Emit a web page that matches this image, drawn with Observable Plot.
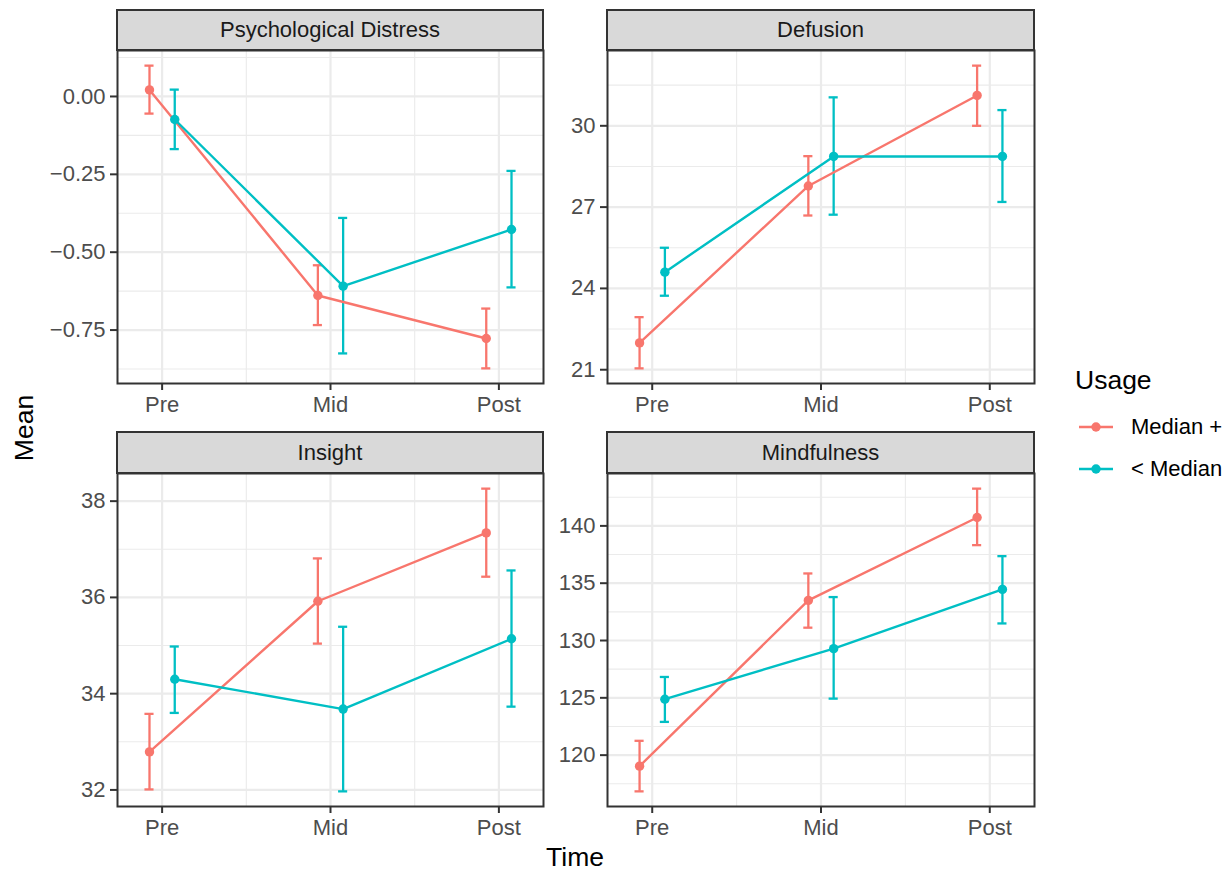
<!DOCTYPE html>
<html>
<head>
<meta charset="utf-8">
<script src="https://cdn.jsdelivr.net/npm/d3@7"></script>
<script src="https://cdn.jsdelivr.net/npm/@observablehq/plot@0.6"></script>
<style>
  html, body { margin: 0; padding: 0; background: #fff; }
  #chart { position: relative; width: 1232px; height: 873px; font-family: "Liberation Sans", Arial, Helvetica, sans-serif; }
  .strip { position: absolute; box-sizing: border-box; background: #D9D9D9; border: 2px solid #333; color: #1A1A1A; font-size: 22px; display: flex; align-items: center; justify-content: center; }
  .panel { position: absolute; }
  .title { position: absolute; color: #000; font-size: 26.5px; white-space: nowrap; }
  .legtext { position: absolute; color: #000; font-size: 22px; white-space: nowrap; }
</style>
</head>
<body>
<div id="chart"></div>
<script>
// ---- data ----
const times = ["Pre", "Mid", "Post"];
const groups = ["Median +", "< Median"];
const groupColors = ["#F8766D", "#00BFC4"];
const measures = ["Psychological Distress", "Defusion", "Insight", "Mindfulness"];

// Psychological Distress
const distressHighMean = [0.021, -0.639, -0.777];
const distressHighLo   = [-0.055, -0.734, -0.873];
const distressHighHi   = [0.099, -0.542, -0.681];
const distressLowMean  = [-0.074, -0.609, -0.427];
const distressLowLo    = [-0.169, -0.825, -0.613];
const distressLowHi    = [0.022, -0.390, -0.239];
const distressTicks = [0, -0.25, -0.5, -0.75];

// Defusion
const defusionHighMean = [21.99, 27.78, 31.12];
const defusionHighLo   = [21.05, 26.69, 30.00];
const defusionHighHi   = [22.94, 28.88, 32.22];
const defusionLowMean  = [24.60, 28.87, 28.87];
const defusionLowLo    = [23.73, 26.72, 27.19];
const defusionLowHi    = [25.50, 31.05, 30.58];
const defusionTicks = [21, 24, 27, 30];

// Insight
const insightHighMean = [32.79, 35.92, 37.34];
const insightHighLo   = [32.01, 35.04, 36.43];
const insightHighHi   = [33.58, 36.81, 38.26];
const insightLowMean  = [34.30, 33.68, 35.14];
const insightLowLo    = [33.60, 31.97, 33.73];
const insightLowHi    = [34.98, 35.39, 36.56];
const insightTicks = [32, 34, 36, 38];

// Mindfulness
const mindHighMean = [119.04, 133.50, 140.73];
const mindHighLo   = [116.84, 131.12, 138.32];
const mindHighHi   = [121.25, 135.85, 143.25];
const mindLowMean  = [124.88, 129.29, 134.46];
const mindLowLo    = [122.90, 124.93, 131.49];
const mindLowHi    = [126.82, 133.79, 137.36];
const mindTicks = [120, 125, 130, 135, 140];

// ---- layout ----
const chart = document.getElementById("chart");
const dodge = 0.075;      // position_dodge half-width (x units)
const capHalf = 0.027;    // error-bar cap half-width (x units)
const xPad = 0.265;
const ML = 80, MT = 2, MR = 2, MB = 40;

const panels = [
  {name: measures[0], px: 117, py: 50, pw: 426, ph: 333, stripTop: 9,
   high: [distressHighMean, distressHighLo, distressHighHi], low: [distressLowMean, distressLowLo, distressLowHi],
   ticks: distressTicks, fmt: d3.format(".2f")},
  {name: measures[1], px: 607, py: 50, pw: 427, ph: 333, stripTop: 9,
   high: [defusionHighMean, defusionHighLo, defusionHighHi], low: [defusionLowMean, defusionLowLo, defusionLowHi],
   ticks: defusionTicks, fmt: d3.format("d")},
  {name: measures[2], px: 117, py: 473, pw: 426, ph: 333, stripTop: 431,
   high: [insightHighMean, insightHighLo, insightHighHi], low: [insightLowMean, insightLowLo, insightLowHi],
   ticks: insightTicks, fmt: d3.format("d")},
  {name: measures[3], px: 607, py: 473, pw: 427, ph: 333, stripTop: 431,
   high: [mindHighMean, mindHighLo, mindHighHi], low: [mindLowMean, mindLowLo, mindLowHi],
   ticks: mindTicks, fmt: d3.format("d")}
];

function buildRows(p) {
  const rows = [];
  [p.high, p.low].forEach((arrs, gi) => {
    times.forEach((t, ti) => {
      rows.push({
        group: groups[gi],
        x: ti + 1 + (gi === 0 ? -dodge : dodge),
        mean: arrs[0][ti], lo: arrs[1][ti], hi: arrs[2][ti]
      });
    });
  });
  return rows;
}

for (const p of panels) {
  const rows = buildRows(p);
  const ymin = d3.min(rows, d => d.lo), ymax = d3.max(rows, d => d.hi);
  const ext = (ymax - ymin) * 0.05;
  const yDomain = [ymin - ext, ymax + ext];
  const st = Math.abs(p.ticks[1] - p.ticks[0]);
  const minorY = [];
  const t0 = d3.min(p.ticks);
  for (let v = t0 - st / 2; v <= yDomain[1]; v += st) if (v >= yDomain[0]) minorY.push(v);
  const xTicks = times.map((t, i) => i + 1);
  const minorX = [1.5, 2.5];

  const svg = Plot.plot({
    width: ML + p.pw + MR,
    height: MT + p.ph + MB,
    marginLeft: ML, marginRight: MR, marginTop: MT, marginBottom: MB,
    style: {background: "transparent", overflow: "visible", fontFamily: "'Liberation Sans', Arial, Helvetica, sans-serif"},
    x: {domain: [1 - xPad, times.length + xPad], axis: null},
    y: {domain: yDomain, axis: null},
    color: {domain: groups, range: groupColors},
    marks: [
      Plot.gridY(minorY, {stroke: "#EBEBEB", strokeOpacity: 1, strokeWidth: 1.1}),
      Plot.gridX(minorX, {stroke: "#EBEBEB", strokeOpacity: 1, strokeWidth: 1.1}),
      Plot.gridY(p.ticks, {stroke: "#EBEBEB", strokeOpacity: 1, strokeWidth: 2.2}),
      Plot.gridX(xTicks, {stroke: "#EBEBEB", strokeOpacity: 1, strokeWidth: 2.2}),
      Plot.ruleX(rows, {x: "x", y1: "lo", y2: "hi", stroke: "group", strokeWidth: 2.3}),
      Plot.ruleY(rows, {y: "lo", x1: d => d.x - capHalf, x2: d => d.x + capHalf, stroke: "group", strokeWidth: 2.3}),
      Plot.ruleY(rows, {y: "hi", x1: d => d.x - capHalf, x2: d => d.x + capHalf, stroke: "group", strokeWidth: 2.3}),
      Plot.line(rows, {x: "x", y: "mean", z: "group", stroke: "group", strokeWidth: 2.4}),
      Plot.dot(rows, {x: "x", y: "mean", fill: "group", r: 4.7}),
      Plot.frame({stroke: "#333", strokeWidth: 2}),
      Plot.axisX(xTicks, {tickFormat: d => times[d - 1], label: null, tickSize: 7, tickPadding: 6,
        fontSize: 22, fill: "#4D4D4D", stroke: "#333", strokeWidth: 2}),
      Plot.axisY(p.ticks, {tickFormat: p.fmt, label: null, tickSize: 7, tickPadding: 5,
        fontSize: 22, fill: "#4D4D4D", stroke: "#333", strokeWidth: 2})
    ]
  });
  svg.classList.add("panel");
  svg.style.left = (p.px - ML) + "px";
  svg.style.top = (p.py - MT) + "px";
  chart.appendChild(svg);

  const strip = document.createElement("div");
  strip.className = "strip";
  strip.textContent = p.name;
  strip.style.left = (p.px - 1) + "px";
  strip.style.top = p.stripTop + "px";
  strip.style.width = (p.pw + 2) + "px";
  strip.style.height = (p.py - p.stripTop + 1) + "px";
  chart.appendChild(strip);
}

// axis titles
const yTitle = document.createElement("div");
yTitle.className = "title";
yTitle.textContent = "Mean";
yTitle.style.left = "24px";
yTitle.style.top = "428px";
yTitle.style.transform = "translate(-50%, -50%) rotate(-90deg)";
chart.appendChild(yTitle);

const xTitle = document.createElement("div");
xTitle.className = "title";
xTitle.textContent = "Time";
xTitle.style.left = "575px";
xTitle.style.top = "857px";
xTitle.style.transform = "translate(-50%, -50%)";
chart.appendChild(xTitle);

// legend
const legTitle = document.createElement("div");
legTitle.className = "title";
legTitle.textContent = "Usage";
legTitle.style.left = "1075px";
legTitle.style.top = "380px";
legTitle.style.transform = "translate(0, -50%)";
chart.appendChild(legTitle);

const legY = [427, 469];
groups.forEach((g, i) => {
  const ns = "http://www.w3.org/2000/svg";
  const key = document.createElementNS(ns, "svg");
  key.setAttribute("width", 40); key.setAttribute("height", 20);
  key.style.position = "absolute";
  key.style.left = "1076px";
  key.style.top = (legY[i] - 10) + "px";
  const ln = document.createElementNS(ns, "line");
  ln.setAttribute("x1", 3); ln.setAttribute("x2", 37); ln.setAttribute("y1", 10); ln.setAttribute("y2", 10);
  ln.setAttribute("stroke", groupColors[i]); ln.setAttribute("stroke-width", 2.4);
  const c = document.createElementNS(ns, "circle");
  c.setAttribute("cx", 20); c.setAttribute("cy", 10); c.setAttribute("r", 4.7);
  c.setAttribute("fill", groupColors[i]);
  key.appendChild(ln); key.appendChild(c);
  chart.appendChild(key);
  const t = document.createElement("div");
  t.className = "legtext";
  t.textContent = g;
  t.style.left = "1131px";
  t.style.top = legY[i] + "px";
  t.style.transform = "translate(0, -50%)";
  chart.appendChild(t);
});
</script>
</body>
</html>
